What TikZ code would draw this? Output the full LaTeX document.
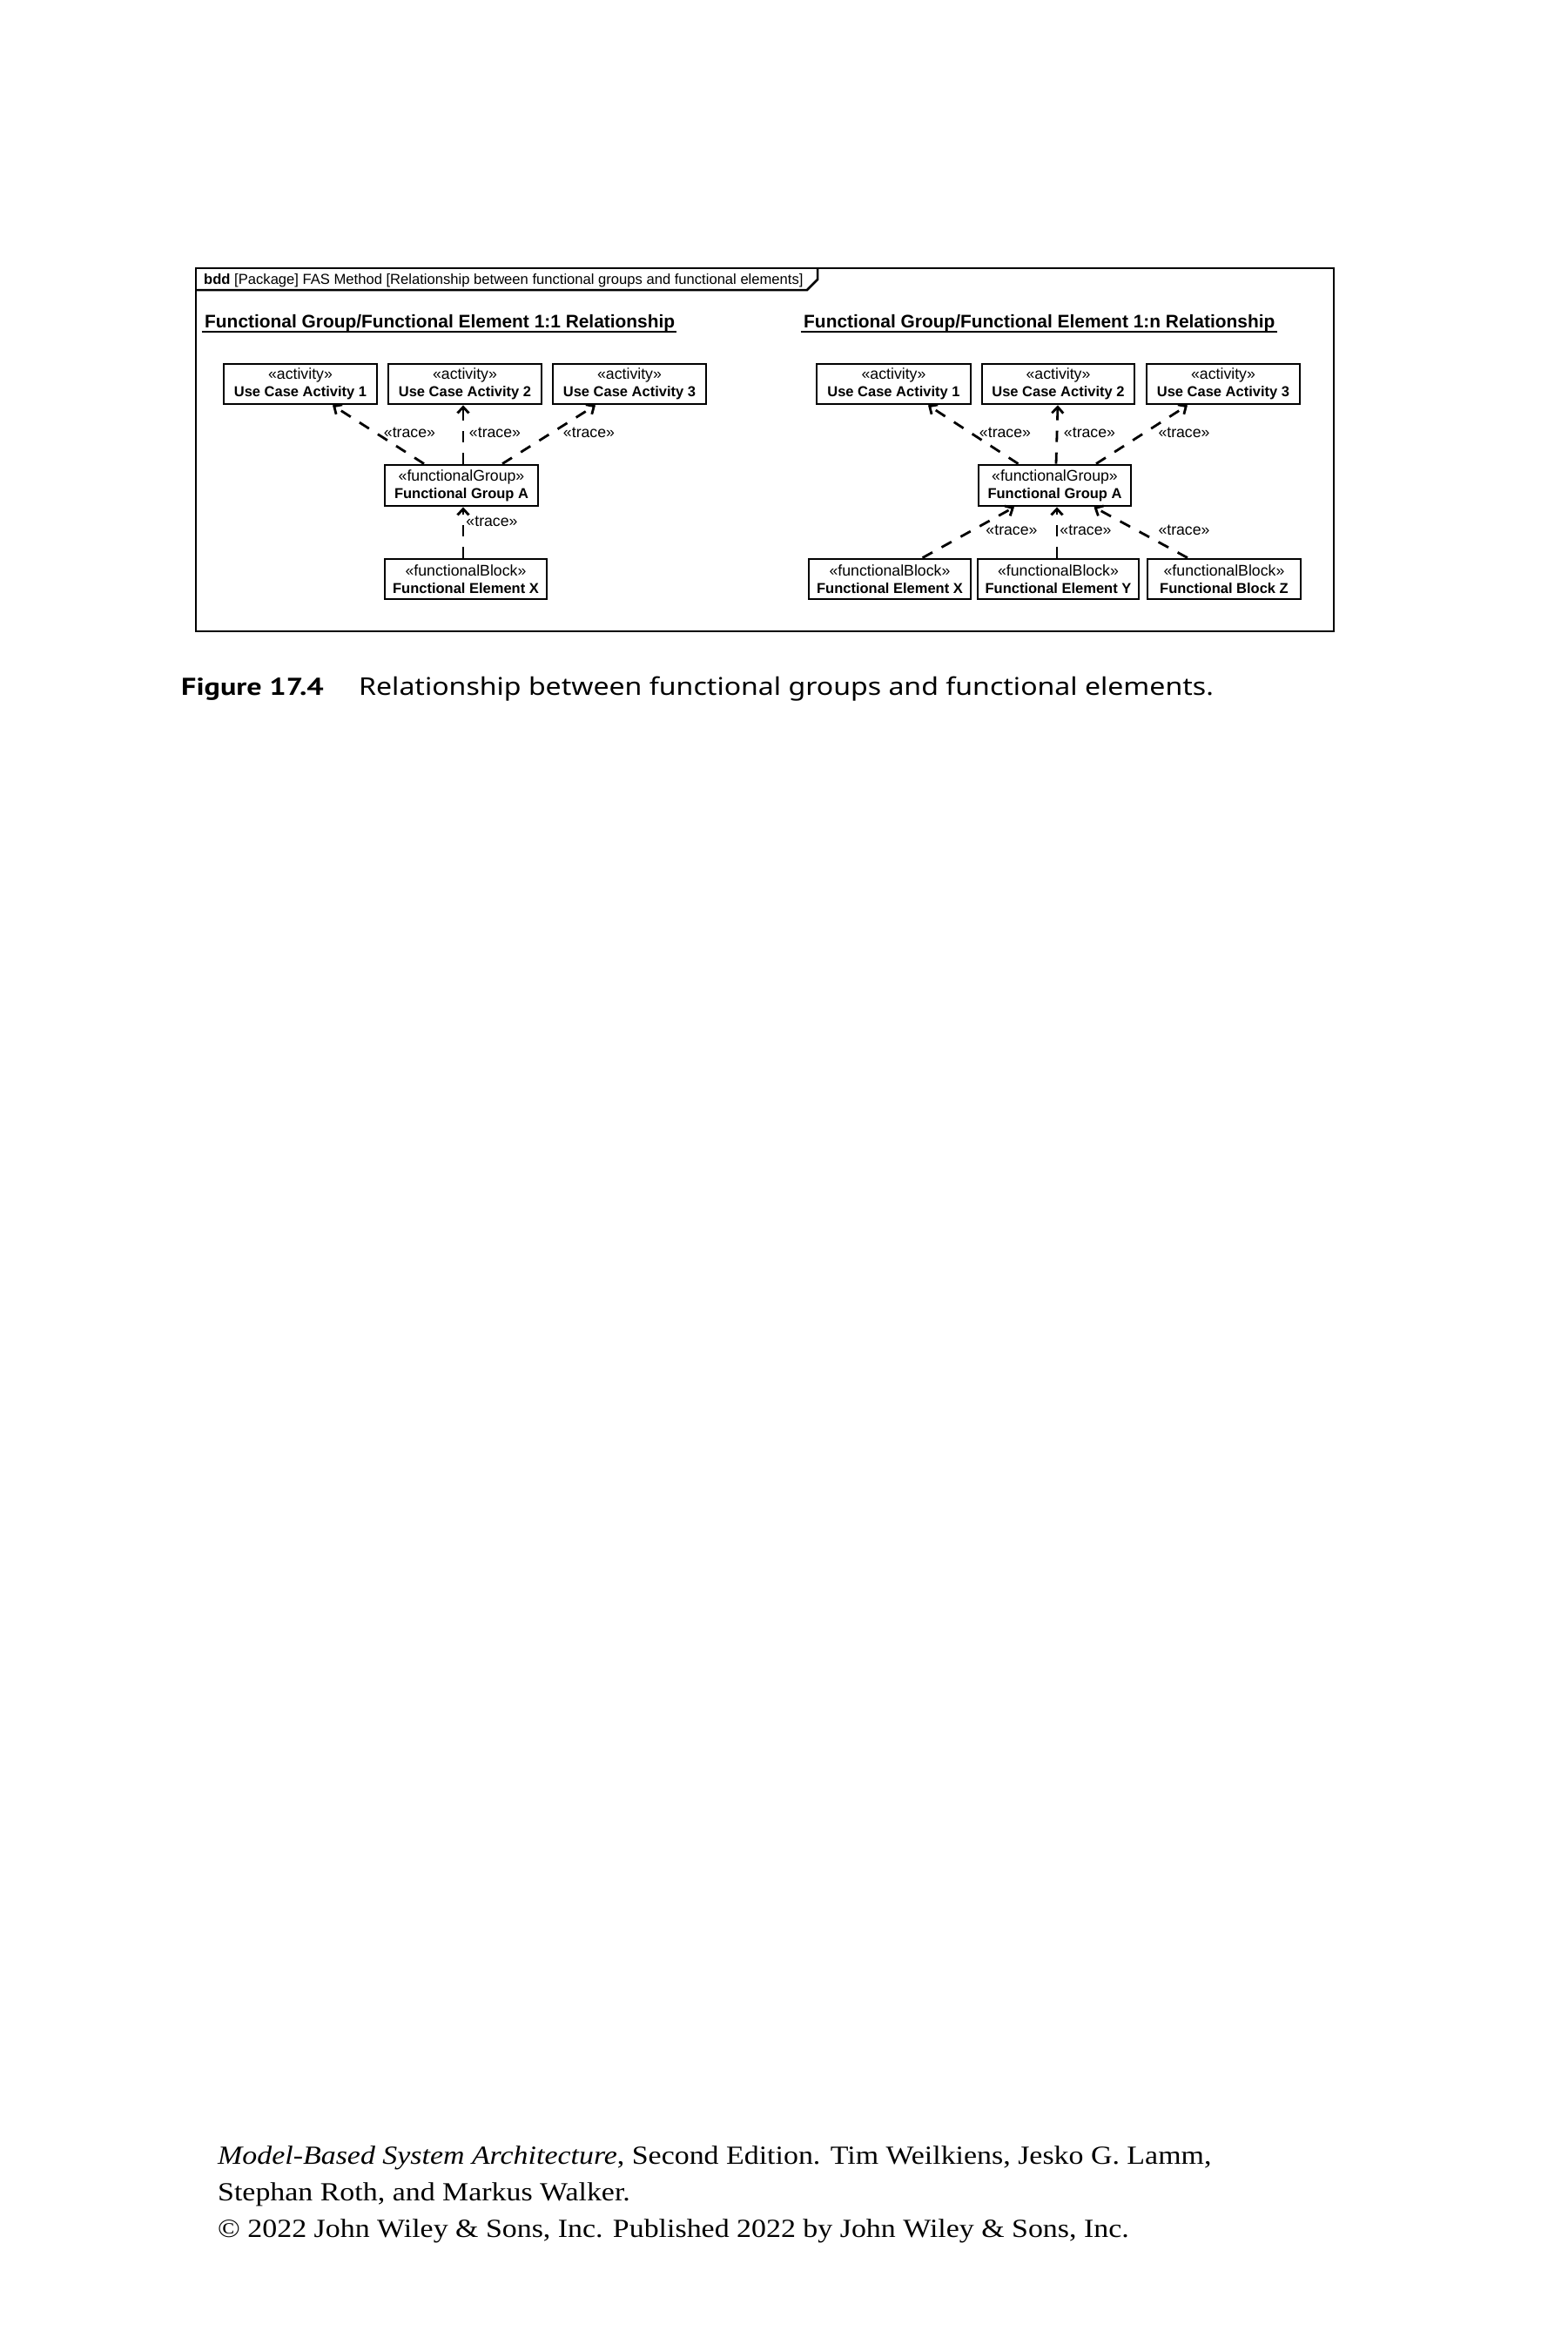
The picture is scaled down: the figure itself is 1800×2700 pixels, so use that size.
\documentclass[tikz,border=0pt]{standalone}
\usepackage{fontspec}
\setmainfont{Liberation Sans}
\newfontfamily\capfont[FakeStretch=1.145]{Noto Sans}
\newfontfamily\capbf[FakeStretch=1.22]{PT Sans}
\newfontfamily\serfont[FakeStretch=1.13]{Liberation Serif}
\usetikzlibrary{arrows.meta}
\newcommand{\ster}[1]{{\fontsize{17.7}{20}\selectfont «#1»}}
\newcommand{\elname}[1]{{\fontsize{16.5}{20}\selectfont\bfseries #1}}
\begin{document}
\begin{tikzpicture}[x=1pt,y=-1pt,
  box/.style={draw, line width=2.8pt, inner sep=0pt, align=center, minimum height=46pt,
    font=\fontsize{17.7}{20}\selectfont},
  lab/.style={inner sep=0pt, font=\fontsize{17.7}{20}\selectfont},
  trace/.style={draw, line width=2.8pt, dash pattern=on 13pt off 12pt,
    -{Straight Barb[length=7pt,width=13pt,line width=2.8pt]}},
  head/.style={anchor=base west, inner sep=0pt, font=\bfseries\fontsize{20.9}{24}\selectfont},
  uline/.style={line width=2.5pt},
  txt/.style={anchor=base west, inner sep=0pt}
]
\useasboundingbox (0,0) rectangle (1800,2700);
\fill[white] (0,0) rectangle (1800,2700);

% frame
\draw[line width=2.8pt] (225,308) rectangle (1532,725);
\draw[line width=2.5pt] (225,333) -- (927,333) -- (939,321) -- (939,308);
\node[txt, font=\fontsize{16.6}{18}\selectfont] (title) at (234,326)
  {\textbf{bdd} [Package] FAS Method [Relationship between functional groups and functional elements]};

% headings
\node[head] (h1) at (235,376) {Functional Group/Functional Element 1:1 Relationship};
\draw[uline] ([xshift=-3.5pt,yshift=-5pt]h1.base west) -- ([xshift=2pt,yshift=-5pt]h1.base east);
\node[head] (h2) at (923,376) {Functional Group/Functional Element 1:n Relationship};
\draw[uline] ([xshift=-3.5pt,yshift=-5pt]h2.base west) -- ([xshift=2pt,yshift=-5pt]h2.base east);

% left diagram
\node[box, minimum width=176pt] (la1) at (345,441) {\ster{activity}\\\elname{Use Case Activity 1}};
\node[box, minimum width=176pt] (la2) at (534,441) {\ster{activity}\\\elname{Use Case Activity 2}};
\node[box, minimum width=176pt] (la3) at (723,441) {\ster{activity}\\\elname{Use Case Activity 3}};
\node[box, minimum width=176pt, minimum height=47pt] (lg) at (530,557.5) {\ster{functionalGroup}\\\elname{Functional Group A}};
\node[box, minimum width=186pt] (lx) at (535,665) {\ster{functionalBlock}\\\elname{Functional Element X}};

\draw[trace] ([xshift=-43pt]lg.north) -- ([xshift=37pt]la1.south);
\draw[trace] ([xshift=2pt]lg.north) -- ([xshift=-2pt]la2.south);
\draw[trace] ([xshift=47pt]lg.north) -- ([xshift=-39pt]la3.south);
\draw[trace] ([xshift=-3pt]lx.north) -- ([xshift=2pt]lg.south);

\node[lab] (lt1) at (470.5,497) {«trace»};
\node[lab] (lt2) at (568.5,497) {«trace»};
\node[lab] (lt3) at (676.5,497) {«trace»};
\node[lab] (lt4) at (565,599) {«trace»};

% right diagram
\node[box, minimum width=177pt] (ra1) at (1026.5,441) {\ster{activity}\\\elname{Use Case Activity 1}};
\node[box, minimum width=175pt] (ra2) at (1215.5,441) {\ster{activity}\\\elname{Use Case Activity 2}};
\node[box, minimum width=176pt] (ra3) at (1405,441) {\ster{activity}\\\elname{Use Case Activity 3}};
\node[box, minimum width=175pt, minimum height=47pt] (rg) at (1211.5,557.5) {\ster{functionalGroup}\\\elname{Functional Group A}};
\node[box, minimum width=186pt] (rx) at (1022,665) {\ster{functionalBlock}\\\elname{Functional Element X}};
\node[box, minimum width=185pt] (ry) at (1215.5,665) {\ster{functionalBlock}\\\elname{Functional Element Y}};
\node[box, minimum width=176pt] (rz) at (1406,665) {\ster{functionalBlock}\\\elname{Functional Block Z}};

\draw[trace] ([xshift=-42pt]rg.north) -- ([xshift=39.5pt]ra1.south);
\draw[trace] ([xshift=1.5pt]rg.north) -- ([xshift=-0.5pt]ra2.south);
\draw[trace] ([xshift=47.5pt]rg.north) -- ([xshift=-41pt]ra3.south);
\draw[trace] ([xshift=37.6pt]rx.north) -- ([xshift=-46.5pt]rg.south);
\draw[trace] ([xshift=-1.5pt]ry.north) -- ([xshift=2.5pt]rg.south);
\draw[trace] ([xshift=-42pt]rz.north) -- ([xshift=45pt]rg.south);

\node[lab] (rt1) at (1154.5,497) {«trace»};
\node[lab] (rt2) at (1251.5,497) {«trace»};
\node[lab] (rt3) at (1360,497) {«trace»};
\node[lab] (rt4) at (1162,609) {«trace»};
\node[lab] (rt5) at (1247,609) {«trace»};
\node[lab] (rt6) at (1360,609) {«trace»};

% caption
\node[txt, font=\capbf\bfseries\fontsize{28}{30}\selectfont] (fig) at (208,798) {Figure 17.4};
\node[txt, font=\capfont\fontsize{28}{30}\selectfont] (capt) at (412,798) {Relationship between functional groups and functional elements.};

% footer
\node[txt, font=\serfont\fontsize{30}{42}\selectfont] (f1) at (250,2485) {\textit{Model-Based System Architecture}, Second Edition. Tim Weilkiens, Jesko G. Lamm,};
\node[txt, font=\serfont\fontsize{30}{42}\selectfont] (f2) at (250,2527) {Stephan Roth, and Markus Walker.};
\node[txt, font=\serfont\fontsize{30}{42}\selectfont] (f3) at (250,2569) {© 2022 John Wiley \& Sons, Inc. Published 2022 by John Wiley \& Sons, Inc.};
\end{tikzpicture}
\end{document}
